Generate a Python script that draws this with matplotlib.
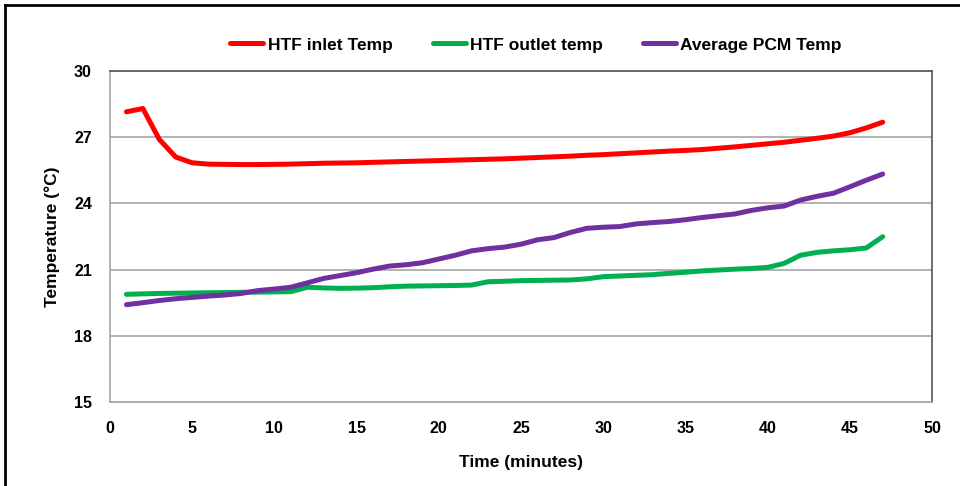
import numpy as np
import matplotlib.pyplot as plt
from matplotlib.lines import Line2D

plt.rcParams['font.family'] = ['Liberation Sans', 'DejaVu Sans']
plt.rcParams['font.weight'] = 'bold'

minutes = list(range(1, 48))

htf_inlet = [28.15, 28.30, 26.90, 26.10, 25.84, 25.78, 25.77, 25.76, 25.76, 25.77,
             25.78, 25.80, 25.82, 25.83, 25.84, 25.86, 25.88, 25.90, 25.92, 25.94,
             25.96, 25.98, 26.00, 26.02, 26.05, 26.08, 26.11, 26.14, 26.18, 26.21,
             26.25, 26.29, 26.33, 26.37, 26.40, 26.44, 26.50, 26.56, 26.63, 26.70,
             26.77, 26.86, 26.95, 27.05, 27.20, 27.42, 27.68]

htf_outlet = [19.88, 19.90, 19.92, 19.93, 19.94, 19.95, 19.96, 19.97, 19.98, 19.99,
              20.00, 20.20, 20.17, 20.15, 20.16, 20.18, 20.22, 20.25, 20.26, 20.27,
              20.28, 20.30, 20.45, 20.47, 20.50, 20.51, 20.52, 20.53, 20.58, 20.68,
              20.71, 20.74, 20.77, 20.83, 20.88, 20.94, 20.98, 21.02, 21.05, 21.10,
              21.28, 21.65, 21.78, 21.85, 21.90, 21.98, 22.49]

pcm_avg = [19.41, 19.50, 19.60, 19.68, 19.74, 19.80, 19.85, 19.92, 20.05, 20.12,
           20.20, 20.40, 20.60, 20.73, 20.86, 21.02, 21.16, 21.22, 21.31, 21.48,
           21.65, 21.85, 21.95, 22.02, 22.15, 22.35, 22.45, 22.68, 22.87, 22.92,
           22.95, 23.07, 23.13, 23.18, 23.26, 23.36, 23.44, 23.52, 23.68, 23.80,
           23.88, 24.15, 24.32, 24.46, 24.75, 25.05, 25.33]

labels = ['HTF inlet Temp', 'HTF outlet temp', 'Average PCM Temp']
colors = ['#FF0000', '#00B050', '#7030A0']

fig = plt.figure(figsize=(9.6, 4.86), dpi=100)
ax = fig.add_axes([110/960, 1 - 402/486, 822/960, 331/486])

for series, lab, col in zip([htf_inlet, htf_outlet, pcm_avg], labels, colors):
    ax.plot(minutes, series, color=col, lw=3.6, label=lab,
            solid_capstyle='round', solid_joinstyle='round', zorder=3)

ax.set_xlim(0, 50)
ax.set_ylim(15, 30)
ax.set_xticks(range(0, 51, 5))
ax.set_yticks(range(15, 31, 3))
ax.tick_params(length=0, labelsize=11.5)
ax.tick_params(axis='x', pad=14)
ax.tick_params(axis='y', pad=13)
for lbl in ax.get_xticklabels() + ax.get_yticklabels():
    lbl.set_fontweight('bold')

ax.grid(axis='y', color='#A6A6A6', lw=1.2, zorder=1)
ax.set_axisbelow(True)
ax.spines['left'].set_color('#A6A6A6')
ax.spines['bottom'].set_color('#A6A6A6')
ax.spines['top'].set_color('#555555')
ax.spines['right'].set_color('#555555')
for s in ax.spines.values():
    s.set_linewidth(1.2)

ax.set_xlabel('Time (minutes)', fontsize=12.5, fontweight='bold', labelpad=13)
ax.set_ylabel('Temperature (°C)', fontsize=12.5, fontweight='bold', labelpad=10)

fig.legend(loc='center', bbox_to_anchor=(536/960, 1 - 45/486), ncol=3,
           frameon=False, handlelength=1.9, handletextpad=0.25,
           columnspacing=2.3, prop={'weight': 'bold', 'size': 12.5})

# outer frame around the chart area
fig.add_artist(Line2D([5/960, 5/960], [0, 1 - 5/486], color='black', lw=2,
                      transform=fig.transFigure))
fig.add_artist(Line2D([5/960, 1], [1 - 5/486, 1 - 5/486], color='black', lw=2,
                      transform=fig.transFigure))

fig.savefig('out.png', dpi=100)
